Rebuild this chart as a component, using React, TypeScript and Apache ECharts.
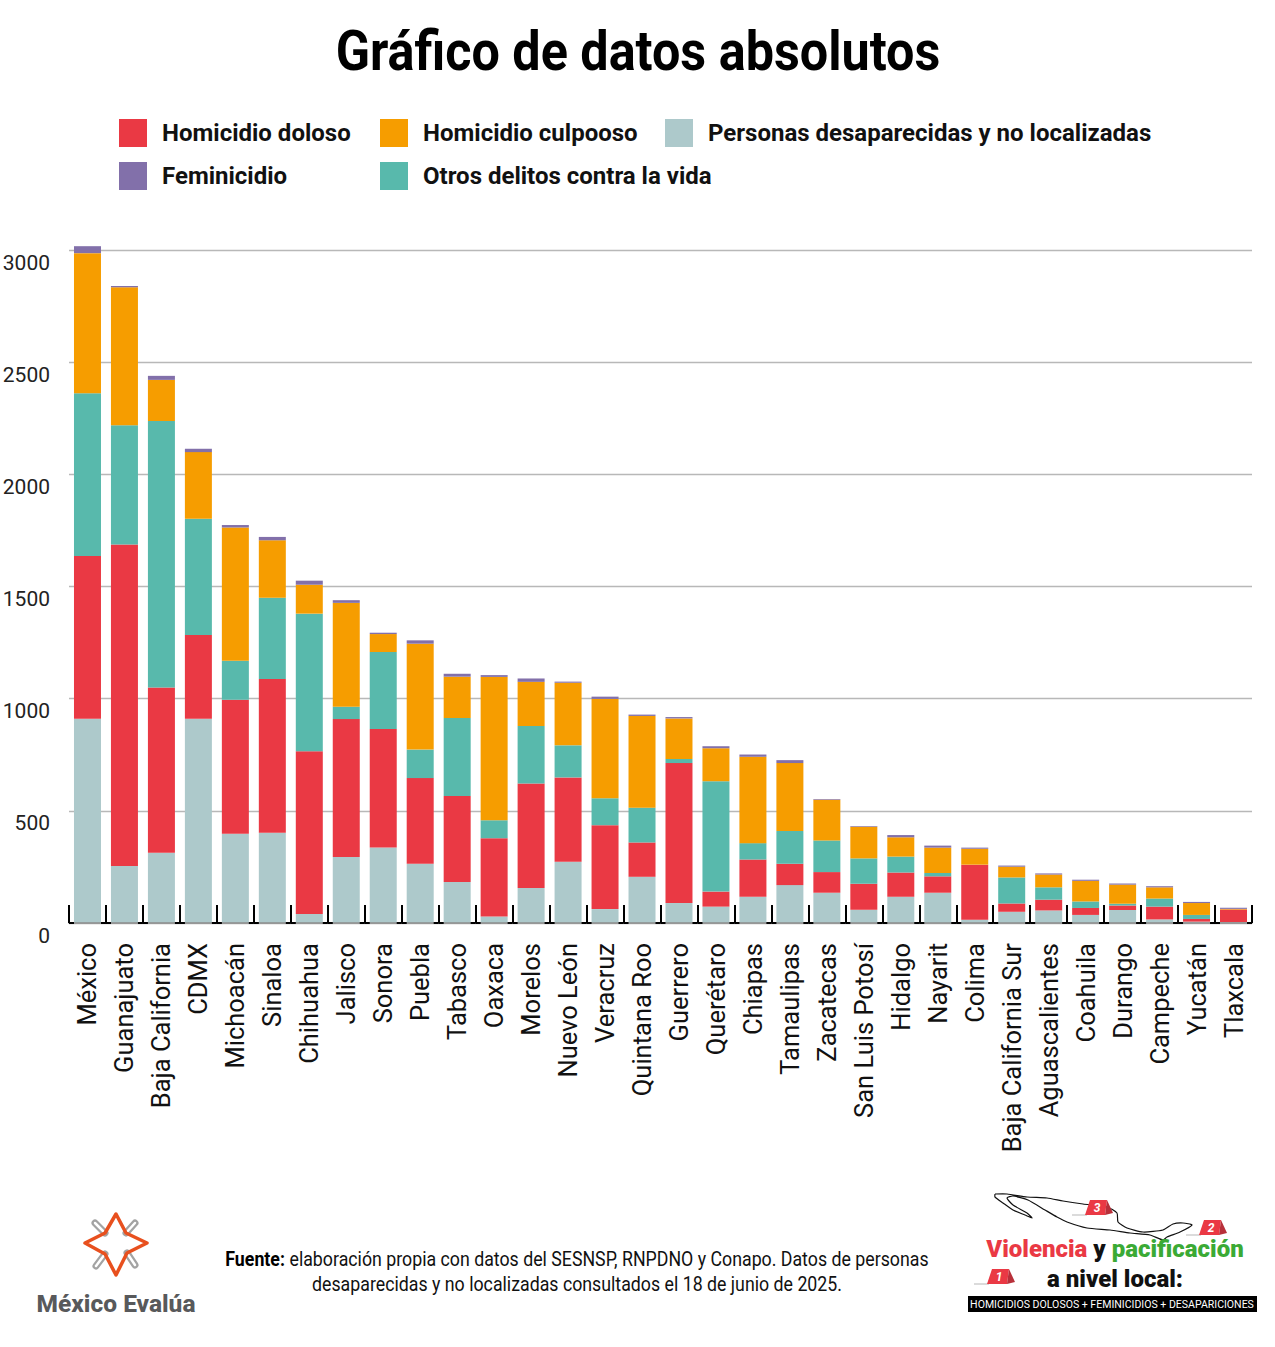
import React, { useEffect, useRef } from "react";
import * as echarts from "echarts";

const estados = ["México","Guanajuato","Baja California","CDMX","Michoacán","Sinaloa","Chihuahua","Jalisco","Sonora","Puebla","Tabasco","Oaxaca","Morelos","Nuevo León","Veracruz","Quintana Roo","Guerrero","Querétaro","Chiapas","Tamaulipas","Zacatecas","San Luis Potosí","Hidalgo","Nayarit","Colima","Baja California Sur","Aguascalientes","Coahuila","Durango","Campeche","Yucatán","Tlaxcala"];
const personas = [910,254,313,910,398,402,40,294,336,264,183,29,156,273,62,206,89,73,117,169,135,59,117,135,15,50,56,36,58,16,6,4];
const doloso = [726,1433,737,374,597,686,726,615,529,382,383,349,466,376,374,153,624,67,166,95,92,116,108,73,245,37,48,31,20,57,12,56];
const otros = [725,532,1188,518,174,362,613,55,343,127,348,80,256,143,120,155,18,492,73,146,141,113,71,15,0,116,55,29,8,36,18,0];
const culposo = [625,615,183,297,594,256,129,463,80,472,184,639,197,279,443,409,181,147,385,303,181,141,86,113,71,48,57,92,85,50,53,3];
const feminicidio = [31,6,18,15,11,15,18,12,6,15,13,8,15,5,10,6,6,9,10,13,3,3,10,9,5,5,5,5,5,5,5,5];

const FONT = 'Roboto, sans-serif';
const COLORS = { doloso: "#EA3944", culposo: "#F69D00", personas: "#ADC9CB", feminicidio: "#8270AA", otros: "#58B9AC" };

const legendBoxes = [
  { name: "Homicidio doloso", left: 119, top: 119 },
  { name: "Homicidio culpooso", left: 380, top: 119 },
  { name: "Personas desaparecidas y no localizadas", left: 665, top: 119 },
  { name: "Feminicidio", left: 119, top: 162 },
  { name: "Otros delitos contra la vida", left: 380, top: 162 },
];

const mexicoOutline = [[995,1194],[1007,1194],[1027,1197],[1047,1198],[1063,1201],[1083,1204],[1107,1207],[1117,1213],[1118,1222],[1127,1228],[1143,1232],[1163,1230],[1173,1224],[1183,1223],[1192,1225],[1180,1232],[1167,1237],[1163,1240],[1150,1235],[1130,1233],[1110,1230],[1087,1228],[1067,1222],[1057,1217],[1045,1210],[1028,1200],[1013,1196],[1007,1198],[1013,1205],[1027,1213],[1032,1218],[1025,1215],[1013,1210],[1003,1203],[995,1197],[995,1194]];

function badge(x: number, y: number, label: string) {
  return [
    { type: "line", shape: { x1: x - 13, y1: y + 15, x2: x + 2, y2: y + 15 }, style: { stroke: "#cfcfcf", lineWidth: 1.5 } },
    { type: "polygon", shape: { points: [[x, y + 15], [x + 5, y], [x + 22, y], [x + 20, y + 15]] }, style: { fill: "#EA3944" } },
    { type: "polygon", shape: { points: [[x + 22, y], [x + 28, y + 13], [x + 20, y + 15]] }, style: { fill: "#B8303A" } },
    { type: "text", x: x + 12, y: y + 8, style: { text: label, fill: "#fff", font: 'italic 700 12px Roboto', textAlign: "center", textVerticalAlign: "middle" } },
  ];
}

function starLogo() {
  const gris = "#a3a3a3";
  const naranja = "#E8501E";
  const diag = [[126,1233,135,1223],[127,1253,135,1265],[105,1254,96,1266],[105,1233,95,1223]];
  const lineas = diag.map((d) => ({ type: "line", shape: { x1: d[0], y1: d[1], x2: d[2], y2: d[3] }, style: { stroke: gris, lineWidth: 7, lineCap: "round" } }));
  return [
    ...lineas,
    ...diag.map((d) => ({ type: "line", shape: { x1: d[0], y1: d[1], x2: d[2], y2: d[3] }, style: { stroke: "#fff", lineWidth: 2.5, lineCap: "round" } })),
    { type: "polygon", shape: { points: [[116,1214],[126,1233],[147,1243],[127,1253],[116,1275],[105,1254],[85,1243],[105,1233]] }, style: { fill: "none", stroke: naranja, lineWidth: 3.5, lineJoin: "round" } },
    { type: "text", x: 116, y: 1303, style: { text: "México Evalúa", fill: "#58595B", font: '800 24.5px Roboto', textAlign: "center", textVerticalAlign: "middle" } },
  ];
}

export default function App() {
  const ref = useRef<HTMLDivElement>(null);
  useEffect(() => {
    const chart = echarts.init(ref.current!, null, { renderer: "svg" });
    const barSeries = (name: string, data: number[], color: string) => ({
      name, type: "bar", stack: "total", data, barWidth: 27, clip: false, itemStyle: { color }, z: 2,
    });
    chart.setOption({
      animation: false,
      backgroundColor: "#fff",
      grid: { left: 69, right: 23, top: 250, bottom: 424, containLabel: false, outerBoundsMode: "none" },
      legend: legendBoxes.map((b) => ({
        left: b.left, top: b.top, data: [b.name], icon: "rect", itemWidth: 28, itemHeight: 28, padding: 0, selectedMode: false,
        textStyle: { fontFamily: FONT, fontWeight: 700, fontSize: 24, color: "#111", padding: [3, 0, 0, 10] },
      })),
      xAxis: {
        type: "category", data: estados, z: 3, containShape: false,
        axisLine: { lineStyle: { color: "#8c8c8c", width: 1.5 } },
        axisTick: { show: true, inside: true, length: 18, alignWithLabel: false, lineStyle: { color: "#000", width: 2 } },
        axisLabel: { interval: 0, rotate: 90, margin: 20, fontFamily: FONT, fontSize: 25.5, color: "#111" },
      },
      yAxis: {
        type: "value", min: 0, max: 3000, interval: 500,
        axisLine: { show: false }, axisTick: { show: false },
        splitLine: { lineStyle: { color: "#b8b8b8", width: 1.3 } },
        axisLabel: { margin: 19, fontFamily: FONT, fontSize: 21, color: "#222", verticalAlign: "top", formatter: (v: number) => String(v), padding: [2, 0, 0, 0] },
      },
      series: [
        barSeries("Personas desaparecidas y no localizadas", personas, COLORS.personas),
        barSeries("Homicidio doloso", doloso, COLORS.doloso),
        barSeries("Otros delitos contra la vida", otros, COLORS.otros),
        barSeries("Homicidio culpooso", culposo, COLORS.culposo),
        barSeries("Feminicidio", feminicidio, COLORS.feminicidio),
        {
          type: "custom", name: "base", z: 5, clip: false, silent: true,
          data: estados.map((e) => [e, 0]), encode: { x: 0, y: 1 },
          renderItem: (_p: any, api: any) => {
            const c = api.coord([api.value(0), 0]);
            const band = api.size([1, 0])[0];
            const st = { fill: "#000" };
            return {
              type: "group",
              children: [
                { type: "rect", shape: { x: c[0] - band / 2, y: c[1] - 1, width: 5, height: 2 }, style: st },
                { type: "rect", shape: { x: c[0] + band / 2 - 5, y: c[1] - 1, width: 5, height: 2 }, style: st },
              ],
            };
          },
        },
      ],
      graphic: [
        { type: "text", x: 638, y: 51, scaleX: 0.915, style: { text: "Gráfico de datos absolutos", fill: "#000", font: `700 55px ${FONT}`, textAlign: "center", textVerticalAlign: "middle" } },
        {
          type: "text", x: 577, y: 1272, scaleX: 0.888,
          style: {
            text: "{b|Fuente:} elaboración propia con datos del SESNSP, RNPDNO y Conapo. Datos de personas\ndesaparecidas y no localizadas consultados el 18 de junio de 2025.",
            fill: "#111", font: `400 20px ${FONT}`, lineHeight: 25, textAlign: "center", textVerticalAlign: "middle",
            rich: { b: { fontWeight: 700, fontFamily: FONT, fontSize: 20, lineHeight: 25, fill: "#000" } },
          },
        },
        ...starLogo(),
        { type: "polyline", shape: { points: mexicoOutline, smooth: 0.2 }, style: { stroke: "#111", lineWidth: 1.2, fill: "none" } },
        ...badge(1085, 1200, "3"),
        ...badge(1199, 1220, "2"),
        ...badge(987, 1269, "1"),
        {
          type: "text", x: 1115, y: 1249,
          style: {
            text: "{r|Violencia} {k|y} {g|pacificación}", font: "900 24px Roboto", textAlign: "center", textVerticalAlign: "middle",
            rich: {
              r: { fill: "#EA3944", fontFamily: "Roboto", fontWeight: 900, fontSize: 24 },
              k: { fill: "#111", fontFamily: "Roboto", fontWeight: 900, fontSize: 24 },
              g: { fill: "#3BAA35", fontFamily: "Roboto", fontWeight: 900, fontSize: 24 },
            },
          },
        },
        { type: "text", x: 1115, y: 1279, style: { text: "a nivel local:", fill: "#111", font: "900 24px Roboto", textAlign: "center", textVerticalAlign: "middle" } },
        { type: "rect", shape: { x: 968, y: 1296, width: 289, height: 16 }, style: { fill: "#000" } },
        { type: "text", x: 1112, y: 1304.5, scaleX: 0.96, style: { text: "HOMICIDIOS DOLOSOS + FEMINICIDIOS + DESAPARICIONES", fill: "#fff", font: `400 11px ${FONT}`, textAlign: "center", textVerticalAlign: "middle" } },
      ],
    });
    return () => chart.dispose();
  }, []);
  return <div ref={ref} style={{ position: "absolute", left: 0, top: 0, width: 1275, height: 1347 }} />;
}
